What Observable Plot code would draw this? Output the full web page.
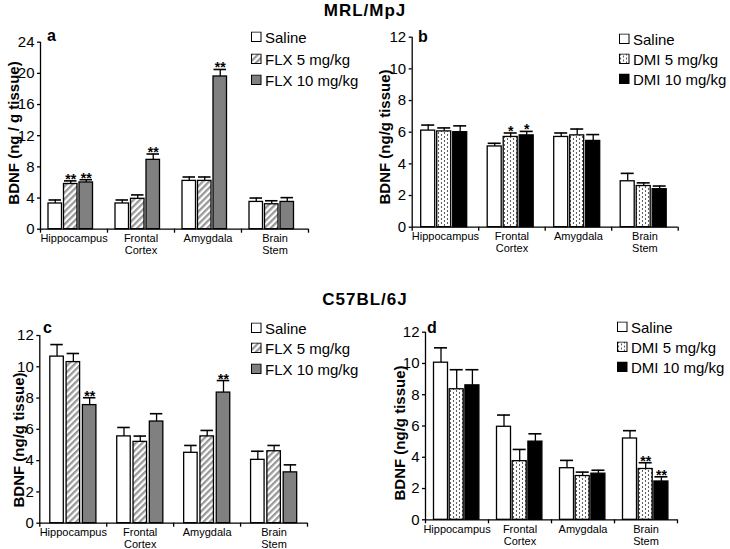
<!DOCTYPE html>
<html><head><meta charset="utf-8">
<script src="https://cdn.jsdelivr.net/npm/d3@7"></script>
<script src="https://cdn.jsdelivr.net/npm/@observablehq/plot@0.6"></script>
<style>
body{margin:0;background:#fff;font-family:"Liberation Sans",Arial,sans-serif;color:#000;}
#page{position:relative;width:730px;height:549px;overflow:hidden;background:#fff;}
.abs{position:absolute;white-space:nowrap;}
.title{font-weight:bold;font-size:17px;line-height:17px;letter-spacing:1px;transform:translate(-50%,-50%);}
.letter{font-weight:bold;font-size:16px;transform:translateY(-50%);}
.ytitle{font-weight:bold;font-size:15px;transform:translate(-50%,-50%) rotate(-90deg);}
.leg{font-size:15px;display:flex;align-items:center;transform:translateY(-50%);}
.leg svg{margin-right:3px;}
.panel{position:absolute;}
</style></head><body>
<svg width="0" height="0" style="position:absolute">
<defs>
<pattern id="hatch" patternUnits="userSpaceOnUse" width="4.5" height="4.5" patternTransform="rotate(45)">
<rect width="4.5" height="4.5" fill="#fff"/><rect width="2.3" height="4.5" fill="#999"/>
</pattern>
<pattern id="dots" patternUnits="userSpaceOnUse" width="6" height="4">
<rect width="6" height="4" fill="#fff"/><circle cx="1.5" cy="1" r="0.65" fill="#000"/><circle cx="4.5" cy="3" r="0.65" fill="#000"/>
</pattern>
</defs></svg>
<div id="page"></div>
<script>
// ---- categories and labels ----
const regions = ["Hippocampus", "Frontal Cortex", "Amygdala", "Brain Stem"];
const regionTickLabels = ["Hippocampus", "Frontal\nCortex", "Amygdala", "Brain\nStem"];
const flxGroups = ["Saline", "FLX 5 mg/kg", "FLX 10 mg/kg"];
const dmiGroups = ["Saline", "DMI 5 mg/kg", "DMI 10 mg/kg"];
const strainTitles = ["MRL/MpJ", "C57BL/6J"];
const panelLetters = ["a", "b", "c", "d"];
const yTitles = ["BDNF (ng / g tissue)", "BDNF (ng/g tissue)", "BDNF (ng/g tissue)", "BDNF (ng/g tissue)"];

// ---- tick values ----
const ticksA = [0, 4, 8, 12, 16, 20, 24];
const ticks12 = [0, 2, 4, 6, 8, 10, 12];

// ---- panel a : MRL/MpJ, fluoxetine ----
const aSaline = [3.3, 3.3, 6.2, 3.5];
const aSalineErr = [0.45, 0.45, 0.5, 0.5];
const aFlx5 = [5.8, 3.9, 6.2, 3.2];
const aFlx5Err = [0.4, 0.5, 0.5, 0.45];
const aFlx10 = [6.0, 8.9, 19.6, 3.5];
const aFlx10Err = [0.35, 0.75, 0.9, 0.55];
const aFlx5Stars = ["**", "", "", ""];
const aFlx10Stars = ["**", "**", "**", ""];

// ---- panel b : MRL/MpJ, desipramine ----
const bSaline = [6.1, 5.1, 5.7, 2.9];
const bSalineErr = [0.35, 0.2, 0.25, 0.5];
const bDmi5 = [6.05, 5.7, 5.8, 2.6];
const bDmi5Err = [0.22, 0.25, 0.4, 0.2];
const bDmi10 = [6.0, 5.8, 5.45, 2.4];
const bDmi10Err = [0.4, 0.25, 0.4, 0.2];
const bDmi5Stars = ["", "*", "", ""];
const bDmi10Stars = ["", "*", "", ""];

// ---- panel c : C57BL/6J, fluoxetine ----
const cSaline = [10.65, 5.55, 4.5, 4.05];
const cSalineErr = [0.77, 0.57, 0.47, 0.55];
const cFlx5 = [10.3, 5.2, 5.55, 4.6];
const cFlx5Err = [0.55, 0.37, 0.38, 0.37];
const cFlx10 = [7.55, 6.5, 8.35, 3.25];
const cFlx10Err = [0.47, 0.5, 0.77, 0.48];
const cFlx10Stars = ["**", "", "**", ""];

// ---- panel d : C57BL/6J, desipramine ----
const dSaline = [10.05, 5.95, 3.3, 5.2];
const dSalineErr = [0.95, 0.75, 0.5, 0.5];
const dDmi5 = [8.35, 3.75, 2.8, 3.25];
const dDmi5Err = [1.25, 0.75, 0.25, 0.4];
const dDmi10 = [8.6, 5.0, 2.95, 2.45];
const dDmi10Err = [1.0, 0.5, 0.22, 0.3];
const dDmi5Stars = ["", "", "", "**"];
const dDmi10Stars = ["", "", "", "**"];

const flxFills = ["#ffffff", "url(#hatch)", "#808080"];
const dmiFills = ["#ffffff", "url(#dots)", "#000000"];

const page = document.getElementById("page");

function addDiv(cls, text, left, top) {
  const el = document.createElement("div");
  el.className = "abs " + cls;
  el.textContent = text;
  el.style.left = left + "px";
  el.style.top = top + "px";
  page.appendChild(el);
  return el;
}

function legend(groups, fills, left, rows) {
  groups.forEach((g, i) => {
    const el = document.createElement("div");
    el.className = "abs leg";
    el.style.left = left + "px";
    el.style.top = rows[i] + "px";
    el.innerHTML = `<svg width="11" height="11"><rect x="0.5" y="0.5" width="9.5" height="9.5" fill="${fills[i]}" stroke="#000" stroke-width="1"/></svg>`;
    const t = document.createElement("span");
    t.textContent = g;
    el.appendChild(t);
    page.appendChild(el);
  });
}

function panel(cfg) {
  const {left, top, width, height, axisLeft, axisRight, yTopPx, y0Px, yMax, ticks, series, fills, padL, step, barW} = cfg;
  const marginLeft = axisLeft - left, marginRight = left + width - axisRight;
  const marginTop = yTopPx - top, marginBottom = top + height - y0Px;
  const bw = (axisRight - axisLeft) / regions.length;
  const marks = [];
  series.forEach((s, i) => {
    const rows = regions.map((r, j) => ({region: r, value: s.mean[j], err: s.err[j], star: s.stars ? s.stars[j] : ""}));
    const x0 = padL + i * step;
    const insetLeft = x0, insetRight = bw - x0 - barW;
    const dx = x0 + barW / 2 - bw / 2;
    marks.push(Plot.ruleX(rows, {x: "region", y1: "value", y2: d => d.value + d.err, dx, stroke: "black", strokeWidth: 1.3}));
    marks.push(Plot.tickY(rows, {x: "region", y: d => d.value + d.err, insetLeft: insetLeft + 0.5, insetRight: insetRight + 0.5, stroke: "black", strokeWidth: 1.6}));
    marks.push(Plot.barY(rows, {x: "region", y1: 0, y2: "value", insetLeft, insetRight, fill: fills[i], stroke: "black", strokeWidth: 1.3}));
    marks.push(Plot.text(rows.filter(d => d.star), {x: "region", y: d => d.value + d.err, text: "star", dx, dy: 3, lineAnchor: "bottom", fontSize: 14, fontWeight: "bold"}));
  });
  marks.push(Plot.ruleY([0], {stroke: "black", strokeWidth: 1.3}));
  marks.push(Plot.ruleX([regions[0]], {x: d => d, dx: -bw / 2, y1: yMax, y2: 0, insetBottom: -4, stroke: "black", strokeWidth: 1.3}));
  marks.push(Plot.ruleX(regions.slice(1), {x: d => d, dx: -bw / 2, y1: 0, y2: 0, insetBottom: -4, stroke: "black", strokeWidth: 1.3}));
  marks.push(Plot.ruleX([regions[regions.length - 1]], {x: d => d, dx: bw / 2, y1: 0, y2: 0, insetBottom: -4, stroke: "black", strokeWidth: 1.3}));
  marks.push(Plot.axisY({ticks, tickSize: 3, tickPadding: 3, fontSize: 15, tickFormat: d => String(d), label: null, strokeWidth: 1.3}));
  marks.push(Plot.axisX({tickSize: 0, tickPadding: 5, fontSize: 11, label: null, lineHeight: 1.05,
    tickFormat: d => regionTickLabels[regions.indexOf(d)]}));
  const svg = Plot.plot({
    width, height, marginLeft, marginRight, marginTop, marginBottom,
    x: {domain: regions, padding: 0, round: false},
    y: {domain: [0, yMax]},
    style: {fontFamily: "'Liberation Sans', Arial, sans-serif", color: "black", background: "transparent", overflow: "visible"},
    marks
  });
  const wrap = document.createElement("div");
  wrap.className = "panel";
  wrap.style.left = left + "px";
  wrap.style.top = top + "px";
  wrap.appendChild(svg);
  page.appendChild(wrap);
}

panel({left: 0, top: 20, width: 365, height: 250, axisLeft: 40, axisRight: 308, yTopPx: 41.7, y0Px: 228.7, yMax: 24, ticks: ticksA,
  fills: flxFills, padL: 8, step: 15.5, barW: 13.5,
  series: [{mean: aSaline, err: aSalineErr}, {mean: aFlx5, err: aFlx5Err, stars: aFlx5Stars}, {mean: aFlx10, err: aFlx10Err, stars: aFlx10Stars}]});
panel({left: 365, top: 20, width: 365, height: 250, axisLeft: 411.7, axisRight: 677.7, yTopPx: 36.7, y0Px: 226.7, yMax: 12, ticks: ticks12,
  fills: dmiFills, padL: 9, step: 16, barW: 14,
  series: [{mean: bSaline, err: bSalineErr}, {mean: bDmi5, err: bDmi5Err, stars: bDmi5Stars}, {mean: bDmi10, err: bDmi10Err, stars: bDmi10Stars}]});
panel({left: 0, top: 310, width: 365, height: 239, axisLeft: 39.3, axisRight: 307, yTopPx: 335, y0Px: 522.7, yMax: 12, ticks: ticks12,
  fills: flxFills, padL: 10.5, step: 16.3, barW: 13.5,
  series: [{mean: cSaline, err: cSalineErr}, {mean: cFlx5, err: cFlx5Err}, {mean: cFlx10, err: cFlx10Err, stars: cFlx10Stars}]});
panel({left: 365, top: 310, width: 365, height: 239, axisLeft: 425, axisRight: 677, yTopPx: 331.7, y0Px: 519.3, yMax: 12, ticks: ticks12,
  fills: dmiFills, padL: 8.5, step: 15.7, barW: 14,
  series: [{mean: dSaline, err: dSalineErr}, {mean: dDmi5, err: dDmi5Err, stars: dDmi5Stars}, {mean: dDmi10, err: dDmi10Err, stars: dDmi10Stars}]});

// titles, letters, axis titles, legends
addDiv("title", strainTitles[0], 365, 9.5);
addDiv("title", strainTitles[1], 365, 299);
addDiv("letter", panelLetters[0], 47, 36);
addDiv("letter", panelLetters[1], 418, 37);
addDiv("letter", panelLetters[2], 43, 328);
addDiv("letter", panelLetters[3], 427, 328);
addDiv("ytitle", yTitles[0], 12.5, 133);
addDiv("ytitle", yTitles[1], 384, 137);
addDiv("ytitle", yTitles[2], 17.5, 440);
addDiv("ytitle", yTitles[3], 399, 433);
legend(flxGroups, flxFills, 251, [37, 59, 80]);
legend(dmiGroups, dmiFills, 619, [39, 59, 79]);
legend(flxGroups, flxFills, 251, [328, 348, 369]);
legend(dmiGroups, dmiFills, 617, [327, 347, 367]);
</script>
</body></html>
